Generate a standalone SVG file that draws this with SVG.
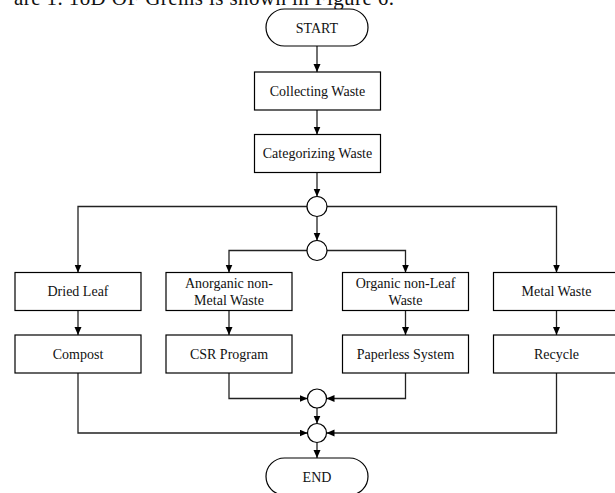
<svg xmlns="http://www.w3.org/2000/svg" width="615" height="493" viewBox="0 0 615 493">
<style>
.box{fill:#fff;stroke:#000;stroke-width:1.2}
.lbl{font-family:"Liberation Serif","Times New Roman",serif;font-size:14px;fill:#111;text-anchor:middle}
.cn{fill:none;stroke:#222;stroke-width:1.3}
</style>
<defs>
<marker id="arr" markerWidth="9" markerHeight="8" refX="8" refY="3.5" orient="auto" markerUnits="userSpaceOnUse">
<path d="M0,0 L8,3.5 L0,7 z" fill="#000"/>
</marker>
</defs>
<rect width="615" height="493" fill="#fff"/>
<text x="14" y="5" font-family="Liberation Serif,serif" font-size="21" fill="#111" textLength="380">are 1. 1oD OF Grems is shown in Figure 6.</text>
<g id="connectors">
<path class="cn" d="M317,46 V72" marker-end="url(#arr)"/>
<path class="cn" d="M317,110 V134.5" marker-end="url(#arr)"/>
<path class="cn" d="M317,172.5 V196.5" marker-end="url(#arr)"/>
<path class="cn" d="M317,216.5 V240.5" marker-end="url(#arr)"/>
<path class="cn" d="M307,206.5 H78 V272.5" marker-end="url(#arr)"/>
<path class="cn" d="M327,206.5 H556.5 V272.5" marker-end="url(#arr)"/>
<path class="cn" d="M307,250.5 H229 V272.5" marker-end="url(#arr)"/>
<path class="cn" d="M327,250.5 H405.5 V272.5" marker-end="url(#arr)"/>
<path class="cn" d="M78,310.5 V335" marker-end="url(#arr)"/>
<path class="cn" d="M229,310.5 V335" marker-end="url(#arr)"/>
<path class="cn" d="M405.5,310.5 V335" marker-end="url(#arr)"/>
<path class="cn" d="M556.5,310.5 V335" marker-end="url(#arr)"/>
<path class="cn" d="M229,373 V398.5 H307.5" marker-end="url(#arr)"/>
<path class="cn" d="M405.5,373 V398.5 H326.5" marker-end="url(#arr)"/>
<path class="cn" d="M317,408 V423.5" marker-end="url(#arr)"/>
<path class="cn" d="M78,373 V433 H307.5" marker-end="url(#arr)"/>
<path class="cn" d="M556.5,373 V433 H326.5" marker-end="url(#arr)"/>
<path class="cn" d="M317,442.5 V458" marker-end="url(#arr)"/>
</g>
<g id="start"><rect class="box" x="266" y="9" width="102" height="37" rx="18.5"/><text class="lbl" x="317" y="33">START</text></g>
<g id="collecting"><rect class="box" x="254.5" y="72" width="126" height="38"/><text class="lbl" x="317.5" y="95.5">Collecting Waste</text></g>
<g id="categorizing"><rect class="box" x="254.5" y="134.5" width="126" height="38"/><text class="lbl" x="317.5" y="158">Categorizing Waste</text></g>
<g id="j1"><circle class="box" cx="317" cy="206.5" r="10"/></g>
<g id="j2"><circle class="box" cx="317" cy="250.5" r="10"/></g>
<g id="dried"><rect class="box" x="15" y="272.5" width="126" height="38"/><text class="lbl" x="78" y="296">Dried Leaf</text></g>
<g id="anorganic"><rect class="box" x="166" y="272.5" width="126" height="38"/><text class="lbl" x="229" y="288">Anorganic non-</text><text class="lbl" x="229" y="305">Metal Waste</text></g>
<g id="organic"><rect class="box" x="342.5" y="272.5" width="126" height="38"/><text class="lbl" x="405.5" y="288">Organic non-Leaf</text><text class="lbl" x="405.5" y="305">Waste</text></g>
<g id="metal"><rect class="box" x="493.5" y="272.5" width="126" height="38"/><text class="lbl" x="556.5" y="296">Metal Waste</text></g>
<g id="compost"><rect class="box" x="15" y="335" width="126" height="38"/><text class="lbl" x="78" y="358.5">Compost</text></g>
<g id="csr"><rect class="box" x="166" y="335" width="126" height="38"/><text class="lbl" x="229" y="358.5">CSR Program</text></g>
<g id="paperless"><rect class="box" x="342.5" y="335" width="126" height="38"/><text class="lbl" x="405.5" y="358.5">Paperless System</text></g>
<g id="recycle"><rect class="box" x="493.5" y="335" width="126" height="38"/><text class="lbl" x="556.5" y="358.5">Recycle</text></g>
<g id="j3"><circle class="box" cx="317" cy="398.5" r="9.5"/></g>
<g id="j4"><circle class="box" cx="317" cy="433" r="9.5"/></g>
<g id="end"><rect class="box" x="266" y="458" width="102" height="37" rx="18.5"/><text class="lbl" x="317" y="482">END</text></g>
</svg>
